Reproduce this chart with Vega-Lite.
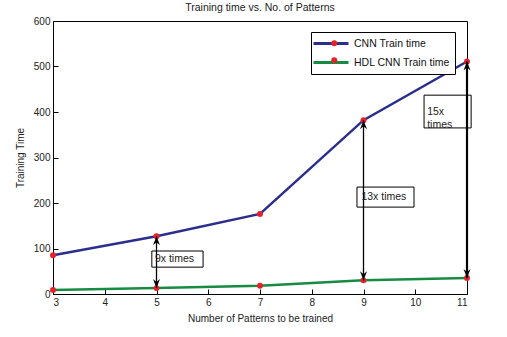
{
  "$schema": "https://vega.github.io/schema/vega-lite/v6.json",
  "width": 414,
  "height": 273,
  "autosize": {"type": "none"},
  "padding": {"left": 53, "top": 21, "right": 40, "bottom": 43},
  "background": "white",
  "config": {
    "font": "Liberation Sans",
    "view": {"stroke": "black", "strokeWidth": 1},
    "axis": {"grid": false, "domainColor": "black", "tickColor": "black", "labelColor": "#222", "titleColor": "#222", "labelFont": "Liberation Sans", "titleFont": "Liberation Sans", "labelFontSize": 10, "titleFontSize": 10, "titleFontWeight": "normal", "tickSize": -5, "labelPadding": 8}
  },
  "title": {"text": "Training time vs. No. of Patterns", "fontSize": 10.5, "fontWeight": "normal", "font": "Liberation Sans", "color": "#222", "offset": 3},
  "datasets": {
    "series": [
      {"patterns": 3, "time": 85, "series": "CNN Train time", "marker": "CNN"},
      {"patterns": 5, "time": 127, "series": "CNN Train time", "marker": "CNN"},
      {"patterns": 7, "time": 176, "series": "CNN Train time", "marker": "CNN"},
      {"patterns": 9, "time": 382, "series": "CNN Train time", "marker": "CNN"},
      {"patterns": 11, "time": 511, "series": "CNN Train time", "marker": "CNN"},
      {"patterns": 3, "time": 9, "series": "HDL CNN Train time", "marker": "HDL"},
      {"patterns": 5, "time": 13, "series": "HDL CNN Train time", "marker": "HDL"},
      {"patterns": 7, "time": 18, "series": "HDL CNN Train time", "marker": "HDL"},
      {"patterns": 9, "time": 30, "series": "HDL CNN Train time", "marker": "HDL"},
      {"patterns": 11, "time": 35, "series": "HDL CNN Train time", "marker": "HDL"}
    ],
    "arrows": [
      {"patterns": 5, "top": 127, "bottom": 13, "w": 1.3},
      {"patterns": 9, "top": 382, "bottom": 30, "w": 1.3},
      {"patterns": 11, "top": 511, "bottom": 35, "w": 2.2}
    ],
    "boxes": [
      {"x1": 4.91, "x2": 5.9, "y1": 59, "y2": 94.5},
      {"x1": 8.874, "x2": 9.976, "y1": 191, "y2": 235},
      {"x1": 10.17, "x2": 11.08, "y1": 365, "y2": 437}
    ],
    "labels": [
      {"x": 4.97, "y": 77, "label": ["9x times"]},
      {"x": 8.96, "y": 213, "label": ["13x times"]},
      {"x": 10.23, "y": 401, "label": ["15x", "times"]}
    ]
  },
  "layer": [
    {
      "data": {"name": "series"},
      "mark": {"type": "line", "strokeWidth": 2.5},
      "encoding": {
        "x": {"field": "patterns", "type": "quantitative", "scale": {"domain": [3, 11], "nice": false}, "axis": {"values": [3,4,5,6,7,8,9,10,11], "title": "Number of Patterns to be trained", "titlePadding": 6}},
        "y": {"field": "time", "type": "quantitative", "scale": {"domain": [0, 600], "nice": false}, "axis": {"values": [0,100,200,300,400,500,600], "title": "Training Time", "titlePadding": 8}},
        "color": {"field": "series", "type": "nominal", "scale": {"domain": ["CNN Train time", "HDL CNN Train time"], "range": ["#2b2e8c", "#178a43"]},
          "legend": {"title": null, "orient": "none", "legendX": 258, "legendY": 11, "symbolType": "M-1.8,0H5.2", "symbolStrokeWidth": 3, "symbolSize": 100, "labelFontSize": 10.5, "labelFont": "Liberation Sans", "labelColor": "#111", "strokeColor": "black", "fillColor": "white", "padding": 5, "rowPadding": 6, "labelOffset": 25, "zindex": 1}}
      }
    },
    {
      "data": {"name": "series"},
      "mark": {"type": "point", "filled": true, "color": "#e8202a", "size": 35, "opacity": 1},
      "encoding": {
        "x": {"field": "patterns", "type": "quantitative"},
        "y": {"field": "time", "type": "quantitative"},
        "shape": {"field": "marker", "type": "nominal", "scale": {"domain": ["CNN", "HDL"], "range": ["circle", "circle"]},
          "legend": {"title": null, "orient": "none", "legendX": 271, "legendY": 12, "symbolSize": 35, "symbolFillColor": "#e8202a", "symbolStrokeColor": "#e8202a", "symbolStrokeWidth": 0, "symbolOpacity": 1, "labelFontSize": 10.5, "labelFont": "Liberation Sans", "labelExpr": "' '", "padding": 5, "rowPadding": 6, "labelOffset": 25, "zindex": 2}}
      }
    },
    {
      "data": {"name": "arrows"},
      "mark": {"type": "rule", "color": "black"},
      "encoding": {
        "x": {"field": "patterns", "type": "quantitative"},
        "y": {"field": "top", "type": "quantitative"},
        "y2": {"field": "bottom"},
        "strokeWidth": {"field": "w", "type": "quantitative", "scale": null}
      }
    },
    {
      "data": {"name": "arrows"},
      "mark": {"type": "point", "filled": true, "color": "black", "opacity": 1, "size": 100, "shape": "M0,0L0.7,1.8L0,1.2L-0.7,1.8Z"},
      "encoding": {
        "x": {"field": "patterns", "type": "quantitative"},
        "y": {"field": "top", "type": "quantitative"}
      }
    },
    {
      "data": {"name": "arrows"},
      "mark": {"type": "point", "filled": true, "color": "black", "opacity": 1, "size": 100, "shape": "M0,0L0.7,-1.8L0,-1.2L-0.7,-1.8Z"},
      "encoding": {
        "x": {"field": "patterns", "type": "quantitative"},
        "y": {"field": "bottom", "type": "quantitative"}
      }
    },
    {
      "data": {"name": "boxes"},
      "mark": {"type": "rect", "fill": null, "fillOpacity": 0, "stroke": "black", "strokeWidth": 1},
      "encoding": {
        "x": {"field": "x1", "type": "quantitative"},
        "x2": {"field": "x2"},
        "y": {"field": "y1", "type": "quantitative"},
        "y2": {"field": "y2"}
      }
    },
    {
      "data": {"name": "labels"},
      "mark": {"type": "text", "align": "left", "baseline": "middle", "fontSize": 10.5, "font": "Liberation Sans", "color": "#222", "lineHeight": 13},
      "encoding": {
        "x": {"field": "x", "type": "quantitative"},
        "y": {"field": "y", "type": "quantitative"},
        "text": {"field": "label"}
      }
    }
  ]
}
